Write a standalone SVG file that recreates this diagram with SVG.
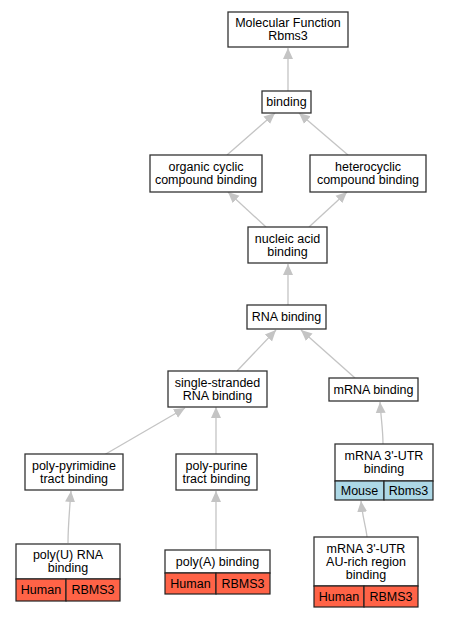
<svg xmlns="http://www.w3.org/2000/svg" width="449" height="619" viewBox="0 0 449 619">
<style>
.b{fill:#fff;stroke:#333;stroke-width:1.3}
.h{fill:#ff6347;stroke:#222;stroke-width:1.2}
.m{fill:#add8e6;stroke:#222;stroke-width:1.2}
text{font-family:"Liberation Sans",Arial,sans-serif;font-size:12.5px;fill:#000;text-anchor:middle}
.e{fill:none;stroke:#c4c4c4;stroke-width:1.3;marker-end:url(#a)}
</style>
<defs>
<marker id="a" markerUnits="userSpaceOnUse" markerWidth="12" markerHeight="12" viewBox="0 0 12 12" refX="11" refY="6" orient="auto">
<path d="M0,1 L11,6 L0,11 Z" fill="#c4c4c4"/>
</marker>
</defs>
<g id="connectors">
<path class="e" d="M288,91 L288,48"/>
<path class="e" d="M227,155 L275,113"/>
<path class="e" d="M348,155 L299,113"/>
<path class="e" d="M266,227 L228,192"/>
<path class="e" d="M309,227 L347,192"/>
<path class="e" d="M288,305 L288,264"/>
<path class="e" d="M237,371 L276,330"/>
<path class="e" d="M355,378 L301,330"/>
<path class="e" d="M104,455 L185,408"/>
<path class="e" d="M216,454 L216,407"/>
<path class="e" d="M383,444 C383,430 381,418 380,402"/>
<path class="e" d="M68,543 C68,528 69,515 71,491"/>
<path class="e" d="M216,549 L216,491"/>
<path class="e" d="M367,537 C366,527 363,520 361,501"/>
</g>
<g id="n1"><rect class="b" x="228" y="12" width="120" height="35"/><text x="288" y="27">Molecular Function</text><text x="288" y="40">Rbms3</text></g>
<g id="n2"><rect class="b" x="262" y="91" width="49" height="22"/><text x="286.5" y="106">binding</text></g>
<g id="n3"><rect class="b" x="150" y="155" width="112" height="37"/><text x="206" y="171">organic cyclic</text><text x="206" y="184">compound binding</text></g>
<g id="n4"><rect class="b" x="310" y="155" width="116" height="37"/><text x="368" y="171">heterocyclic</text><text x="368" y="184">compound binding</text></g>
<g id="n5"><rect class="b" x="248" y="227" width="79" height="36"/><text x="287.5" y="242.5">nucleic acid</text><text x="287.5" y="255.5">binding</text></g>
<g id="n6"><rect class="b" x="247" y="305" width="79" height="24"/><text x="286.5" y="321">RNA binding</text></g>
<g id="n7"><rect class="b" x="168" y="371" width="99" height="36"/><text x="217.5" y="386.5">single-stranded</text><text x="217.5" y="399.5">RNA binding</text></g>
<g id="n8"><rect class="b" x="329" y="378" width="89" height="23"/><text x="373.5" y="393.5">mRNA binding</text></g>
<g id="n9"><rect class="b" x="25" y="454" width="98" height="36"/><text x="74" y="469.5">poly-pyrimidine</text><text x="74" y="482.5">tract binding</text></g>
<g id="n10"><rect class="b" x="176" y="454" width="81" height="36"/><text x="216.5" y="469.5">poly-purine</text><text x="216.5" y="482.5">tract binding</text></g>
<g id="n11"><rect class="b" x="335" y="444" width="98" height="37"/><text x="384" y="460">mRNA 3'-UTR</text><text x="384" y="473">binding</text>
<rect class="m" x="335" y="481" width="49" height="19"/><rect class="m" x="384" y="481" width="49" height="19"/><text x="359.5" y="494.5">Mouse</text><text x="408.5" y="494.5">Rbms3</text></g>
<g id="n12"><rect class="b" x="16" y="544" width="104" height="35"/><text x="68" y="559">poly(U) RNA</text><text x="68" y="572">binding</text>
<rect class="h" x="16" y="579" width="50" height="22"/><rect class="h" x="66" y="579" width="54" height="22"/><text x="41" y="594">Human</text><text x="93" y="594">RBMS3</text></g>
<g id="n13"><rect class="b" x="165" y="550" width="105" height="23"/><text x="217.5" y="565.5">poly(A) binding</text>
<rect class="h" x="165" y="573" width="51" height="21"/><rect class="h" x="216" y="573" width="54" height="21"/><text x="190.5" y="587.5">Human</text><text x="243" y="587.5">RBMS3</text></g>
<g id="n14"><rect class="b" x="314" y="537" width="104" height="49"/><text x="366" y="552.5">mRNA 3'-UTR</text><text x="366" y="565.5">AU-rich region</text><text x="366" y="578.5">binding</text>
<rect class="h" x="314" y="586" width="50" height="21"/><rect class="h" x="364" y="586" width="54" height="21"/><text x="339" y="600.5">Human</text><text x="391" y="600.5">RBMS3</text></g>
</svg>
